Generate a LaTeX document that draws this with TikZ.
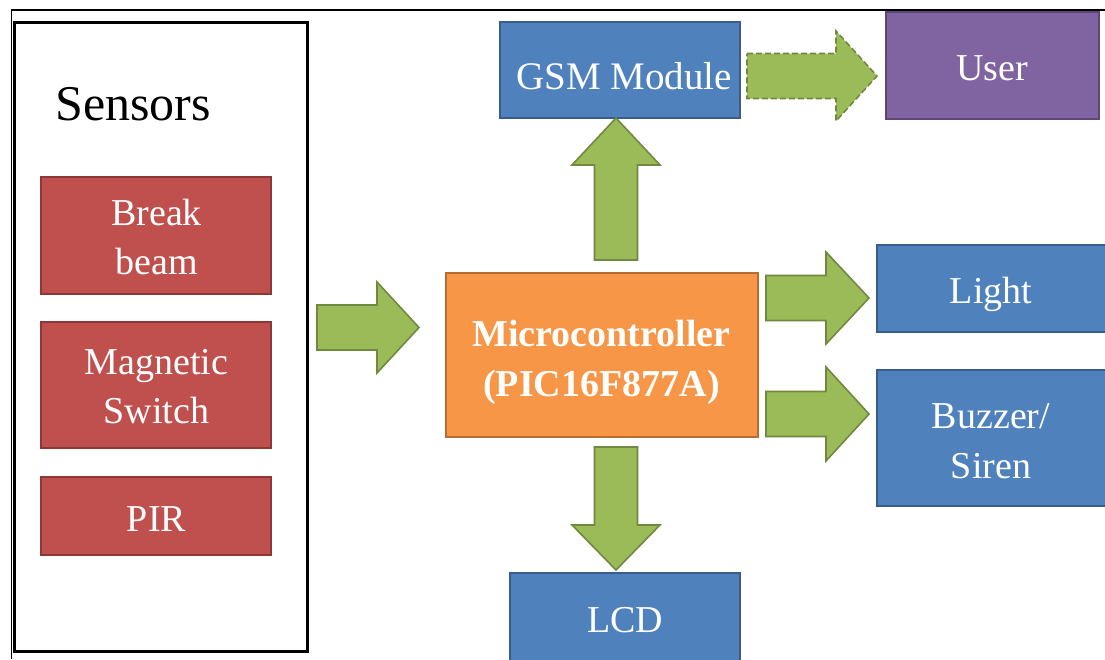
\documentclass[tikz,border=0pt]{standalone}
\usepackage{fontspec}
\setmainfont{Liberation Serif}
\definecolor{redF}{HTML}{C0504D}\definecolor{redB}{HTML}{8C3836}
\definecolor{bluF}{HTML}{4F81BD}\definecolor{bluB}{HTML}{385D8A}
\definecolor{purF}{HTML}{8064A2}\definecolor{purB}{HTML}{5C4776}
\definecolor{orF}{HTML}{F79646}\definecolor{orB}{HTML}{B66D31}
\definecolor{grF}{HTML}{9BBB59}\definecolor{grB}{HTML}{71893F}
\begin{document}
\begin{tikzpicture}[x=1pt,y=-1pt,
  box/.style={draw, line width=1.8pt, inner sep=0pt},
  redbox/.style={box, fill=redF, draw=redB, minimum width=230pt},
  blubox/.style={box, fill=bluF, draw=bluB},
  purbox/.style={box, fill=purF, draw=purB},
  orbox/.style={box, fill=orF, draw=orB},
  lbl/.style={text=white, font=\fontsize{38}{49}\selectfont, align=center, anchor=base, inner sep=0pt},
  boldlbl/.style={lbl, font=\fontsize{38}{50}\selectfont\bfseries},
  garrow/.style={fill=grF, draw=grB, line width=1.6pt, line join=miter},
]
\useasboundingbox (0,0) rectangle (1105,659);
\clip (0,0) rectangle (1105,659);
\fill[white] (0,0) rectangle (1105,659);
% outer frame
\draw[line width=1.5pt] (11.5,659) -- (11.5,10) -- (1105,10);
% sensors group
\node[draw, line width=2.2pt, minimum width=293pt, minimum height=629pt, inner sep=0pt] (sensors) at (161,337) {};
\node[anchor=base west, font=\fontsize{50}{50}\selectfont, inner sep=0pt] (sensorslbl) at (55,120) {Sensors};
\node[redbox, minimum height=117pt] (break) at (156,235.5) {};
\node[lbl] (breaklbl) at (156.5,274) {Break\\beam};
\node[redbox, minimum height=126pt] (magnetic) at (156,385) {};
\node[lbl] (magneticlbl) at (156.5,423) {Magnetic\\Switch};
\node[redbox, minimum height=78pt] (pir) at (156,516) {};
\node[lbl] (pirlbl) at (156.5,531) {PIR};
% central
\node[orbox, minimum width=312pt, minimum height=164pt] (micro) at (602,355) {};
\node[boldlbl] (microlbl) at (601.5,396) {Microcontroller\\(PIC16F877A)};
\node[blubox, minimum width=240pt, minimum height=96pt] (gsm) at (620,70) {};
\node[lbl, font=\fontsize{39}{49}\selectfont] (gsmlbl) at (624,89) {GSM Module};
\node[purbox, minimum width=213pt, minimum height=107pt] (user) at (992.5,65.5) {};
\node[lbl] (userlbl) at (992,80) {User};
\node[blubox, minimum width=230pt, minimum height=87pt] (light) at (992,288.5) {};
\node[lbl] (lightlbl) at (991,303) {Light};
\node[blubox, minimum width=230pt, minimum height=136pt] (buzzer) at (992,438) {};
\node[lbl, font=\fontsize{38}{50}\selectfont] (buzzerlbl) at (991,478) {Buzzer/\\Siren};
\node[blubox, minimum width=230pt, minimum height=100pt] (lcd) at (625,623) {};
\node[lbl] (lcdlbl) at (625,632) {LCD};
% block arrows
\newcommand{\rarrow}[7][]{% x0, xb, xt, yc, s, h
  \draw[garrow,#1] (#2,#5-#6) -- (#3,#5-#6) -- (#3,#5-#7) -- (#4,#5) -- (#3,#5+#7) -- (#3,#5+#6) -- (#2,#5+#6) -- cycle;}
\newcommand{\varrow}[7][]{% y0, yb, yt, xc, s, h
  \draw[garrow,#1] (#5-#6,#2) -- (#5-#6,#3) -- (#5-#7,#3) -- (#5,#4) -- (#5+#7,#3) -- (#5+#6,#3) -- (#5+#6,#2) -- cycle;}
\rarrow{317}{377}{419}{327.5}{22.5}{45.5}
\rarrow{766}{826}{869}{298}{22.5}{46}
\rarrow{766}{826}{869}{414}{22.5}{47}
\rarrow[dashed, dash pattern=on 6pt off 3pt]{747}{836}{877}{76}{22.5}{45}
\varrow{447}{525}{570}{616}{21.5}{44}
\varrow{260}{165}{118}{616}{21.5}{44}
\end{tikzpicture}
\end{document}
